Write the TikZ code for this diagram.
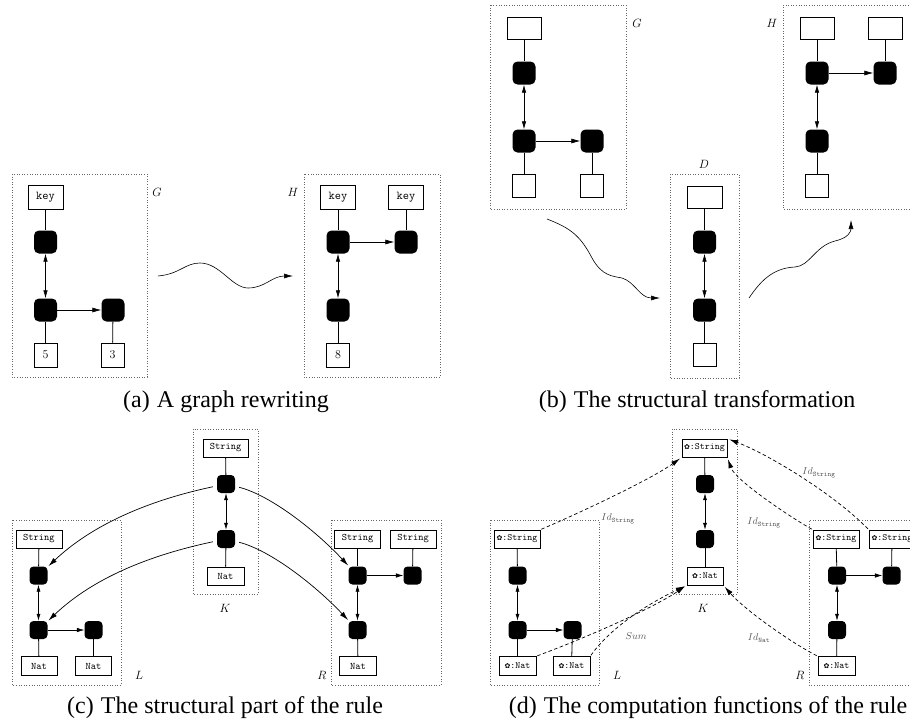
\documentclass[tikz,border=0pt]{standalone}
\usepackage{fontspec}
\usetikzlibrary{arrows.meta}
\newfontfamily\capfont{Liberation Serif}
\newfontfamily\dingfont{DejaVu Sans}
\newcommand{\fl}{{\dingfont\fontsize{7}{7}\selectfont ✿}}
\begin{document}
\begin{tikzpicture}[x=1pt,y=-1pt,
  frame/.style={draw=black!60, dotted, line width=0.6pt},
  blkA/.style={rectangle, fill=black, rounded corners=5pt, minimum size=23pt, inner sep=0pt},
  blkB/.style={blkA, minimum size=18pt, rounded corners=4pt},
  valA/.style={draw, line width=0.7pt, fill=white, inner sep=0pt, minimum height=24pt, font={\fontsize{12}{12}\selectfont\ttfamily}},
  valB/.style={draw, line width=0.7pt, fill=white, inner sep=0pt, minimum height=18pt, font={\fontsize{10}{10}\selectfont\ttfamily}},
  valD/.style={valB, font={\fontsize{9.5}{9.5}\selectfont\ttfamily}},
  glab/.style={font={\fontsize{12}{12}\selectfont}},
  flab/.style={font={\fontsize{10}{10}\selectfont}, text=black!65},
  captxt/.style={anchor=base, font={\fontsize{24}{24}\selectfont\capfont}},
  ln/.style={line width=0.8pt},
  arr/.style={line width=0.6pt, -{Latex[length=9pt,width=5pt]}},
  darr/.style={line width=0.6pt, {Latex[length=8pt,width=4.5pt]}-{Latex[length=8pt,width=4.5pt]}},
  arrc/.style={line width=0.6pt, -{Latex[length=7.5pt,width=4.5pt]}},
  darrc/.style={line width=0.6pt, {Latex[length=7pt,width=4pt]}-{Latex[length=7pt,width=4pt]}},
  carr/.style={line width=0.7pt, -{Latex[length=9pt,width=5pt]}, shorten <=4pt, shorten >=1pt},
  dasharr/.style={line width=0.7pt, dash pattern=on 3.5pt off 2.5pt, -{Latex[length=9pt,width=5pt]}, shorten <=1pt, shorten >=2pt}
]
\useasboundingbox (0,0) rectangle (910,723);

% ===================== (a) =====================
\draw[frame] (12,174) rectangle (147,377);
\node[glab] (gaG) at (157,192) {$G$};
\node[valA, minimum width=35pt] (ga_k) at (45.5,197) {key};
\node[blkA] (ga_b1) at (45.5,242) {};
\node[blkA] (ga_b2) at (45.5,310) {};
\node[blkA] (ga_b3) at (113,310) {};
\node[valA, minimum width=23pt, font={\fontsize{12}{12}\selectfont}] (ga_5) at (45.5,355) {5};
\node[valA, minimum width=23pt, font={\fontsize{12}{12}\selectfont}] (ga_3) at (112.5,355) {3};
\draw[ln] (ga_k) -- (ga_b1);
\draw[darr] (ga_b1) -- (ga_b2);
\draw[arr] (ga_b2) -- (ga_b3);
\draw[ln] (ga_b2) -- (ga_5);
\draw[ln] (ga_b3) -- (ga_3);

\draw[frame] (304,174) rectangle (440,377);
\node[glab] (haH) at (293,192) {$H$};
\node[valA, minimum width=35pt] (ha_k1) at (338,197) {key};
\node[valA, minimum width=35pt] (ha_k2) at (406,197) {key};
\node[blkA] (ha_b1) at (338,242) {};
\node[blkA] (ha_b2) at (406,242) {};
\node[blkA] (ha_b3) at (338,310) {};
\node[valA, minimum width=23pt, font={\fontsize{12}{12}\selectfont}] (ha_8) at (338,355) {8};
\draw[ln] (ha_k1) -- (ha_b1);
\draw[ln] (ha_k2) -- (ha_b2);
\draw[arr] (ha_b1) -- (ha_b2);
\draw[darr] (ha_b1) -- (ha_b3);
\draw[ln] (ha_b3) -- (ha_8);

\coordinate (sqa0) at (158,276);
\coordinate (sqa1) at (293,276);
\draw[arr] (sqa0) .. controls (180,274) and (185,263) .. (200,263)
  .. controls (220,263) and (232,288) .. (248,288)
  .. controls (265,288) and (272,276) .. (sqa1);

\node[captxt] (capa) at (226,407) {(a)\hspace{0.3em}A graph rewriting};

% ===================== (b) =====================
\draw[frame] (490,5) rectangle (626,209);
\node[glab] (gbG) at (637,23) {$G$};
\node[valA, minimum width=34pt, minimum height=22pt] (gb_t1) at (524,28) {};
\node[blkA] (gb_b1) at (524,73) {};
\node[blkA] (gb_b2) at (524,141) {};
\node[blkA] (gb_b3) at (592,141) {};
\node[valA, minimum width=23pt, minimum height=23pt] (gb_v1) at (524,186) {};
\node[valA, minimum width=23pt, minimum height=23pt] (gb_v2) at (592,186) {};
\draw[ln] (gb_t1) -- (gb_b1);
\draw[darr] (gb_b1) -- (gb_b2);
\draw[arr] (gb_b2) -- (gb_b3);
\draw[ln] (gb_b2) -- (gb_v1);
\draw[ln] (gb_b3) -- (gb_v2);

\draw[frame] (670,174) rectangle (739,378);
\node[glab] (dbD) at (704,164) {$D$};
\node[valA, minimum width=35pt, minimum height=22pt] (db_t) at (704.5,197) {};
\node[blkA] (db_b1) at (704.5,242) {};
\node[blkA] (db_b2) at (704.5,310) {};
\node[valA, minimum width=23pt, minimum height=23pt] (db_v) at (704.5,355) {};
\draw[ln] (db_t) -- (db_b1);
\draw[darr] (db_b1) -- (db_b2);
\draw[ln] (db_b2) -- (db_v);

\draw[frame] (783,5) -- (912,5) (912,209) -- (783,209) -- (783,5);
\node[glab] (hbH) at (772,23) {$H$};
\node[valA, minimum width=34pt, minimum height=22pt] (hb_t1) at (817,28) {};
\node[valA, minimum width=34pt, minimum height=22pt] (hb_t2) at (885,28) {};
\node[blkA] (hb_b1) at (817,73) {};
\node[blkA] (hb_b2) at (885,73) {};
\node[blkA] (hb_b3) at (817,141) {};
\node[valA, minimum width=23pt, minimum height=23pt] (hb_v) at (817,186) {};
\draw[ln] (hb_t1) -- (hb_b1);
\draw[ln] (hb_t2) -- (hb_b2);
\draw[arr] (hb_b1) -- (hb_b2);
\draw[darr] (hb_b1) -- (hb_b3);
\draw[ln] (hb_b3) -- (hb_v);

\coordinate (sqb0) at (547,219);
\coordinate (sqb1) at (660,298);
\draw[arr] (sqb0) .. controls (570,228) and (580,235) .. (592,258)
  .. controls (602,276) and (612,276) .. (622,278)
  .. controls (635,282) and (640,298) .. (sqb1);
\coordinate (sqc0) at (749,298);
\coordinate (sqc1) at (851,220);
\draw[arr] (sqc0) .. controls (760,282) and (772,268) .. (795,267)
  .. controls (810,266) and (815,246) .. (835,241)
  .. controls (848,238) and (851,232) .. (sqc1);

\node[captxt] (capb) at (697,407) {(b)\hspace{0.3em}The structural transformation};

% ===================== (c) =====================
\draw[frame] (193,429) rectangle (258,594);
\node[glab] (kcK) at (225,608) {$K$};
\node[valB, minimum width=45pt] (kc_s) at (225.5,448) {String};
\node[blkB] (kc_b1) at (226,484) {};
\node[blkB] (kc_b2) at (226,539) {};
\node[valB, minimum width=37pt] (kc_n) at (225.5,576) {Nat};
\draw[ln] (kc_s) -- (kc_b1);
\draw[darrc] (kc_b1) -- (kc_b2);
\draw[ln] (kc_b2) -- (kc_n);

\draw[frame] (12,520) rectangle (121,685);
\node[glab] (lcL) at (139,675) {$L$};
\node[valB, minimum width=46pt] (lc_s) at (39,539) {String};
\node[blkB] (lc_b1) at (38.5,575.5) {};
\node[blkB] (lc_b2) at (38.5,630) {};
\node[blkB] (lc_b3) at (93.5,630) {};
\node[valB, minimum width=36pt, minimum height=19pt] (lc_n1) at (39,666) {Nat};
\node[valB, minimum width=36pt, minimum height=19pt] (lc_n2) at (93.5,666) {Nat};
\draw[ln] (lc_s) -- (lc_b1);
\draw[darrc] (lc_b1) -- (lc_b2);
\draw[arrc] (lc_b2) -- (lc_b3);
\draw[ln] (lc_b2) -- (lc_n1);
\draw[ln] (lc_b3) -- (lc_n2);

\draw[frame] (331,520) rectangle (441,685);
\node[glab] (rcR) at (322,675) {$R$};
\node[valB, minimum width=46pt] (rc_s1) at (357.5,539) {String};
\node[valB, minimum width=46pt] (rc_s2) at (413,539) {String};
\node[blkB] (rc_b1) at (357.5,575.5) {};
\node[blkB] (rc_b2) at (412.5,575.5) {};
\node[blkB] (rc_b3) at (357.5,630) {};
\node[valB, minimum width=37pt, minimum height=19pt] (rc_n) at (358,666) {Nat};
\draw[ln] (rc_s1) -- (rc_b1);
\draw[ln] (rc_s2) -- (rc_b2);
\draw[arrc] (rc_b1) -- (rc_b2);
\draw[darrc] (rc_b1) -- (rc_b3);
\draw[ln] (rc_b3) -- (rc_n);

\draw[carr] (kc_b1) .. controls (150,500) and (93,524) .. (lc_b1);
\draw[carr] (kc_b2) .. controls (150,555) and (93,578) .. (lc_b2);
\draw[carr] (kc_b1) .. controls (270,495) and (315,530) .. (rc_b1);
\draw[carr] (kc_b2) .. controls (270,550) and (315,585) .. (rc_b3);

\node[captxt] (capc) at (225,713) {(c)\hspace{0.3em}The structural part of the rule};

% ===================== (d) =====================
\draw[frame] (672,429) rectangle (737,594);
\node[glab] (kdK) at (703,608) {$K$};
\node[valD, minimum width=45pt] (kd_s) at (704.5,448) {\fl:String};
\node[blkB] (kd_b1) at (705,484) {};
\node[blkB] (kd_b2) at (705,539) {};
\node[valD, minimum width=36pt] (kd_n) at (705,576) {\fl:Nat};
\draw[ln] (kd_s) -- (kd_b1);
\draw[darrc] (kd_b1) -- (kd_b2);
\draw[ln] (kd_b2) -- (kd_n);

\draw[frame] (490,520) rectangle (599,685);
\node[glab] (ldL) at (617,675) {$L$};
\node[valD, minimum width=46pt] (ld_s) at (517,539) {\fl:String};
\node[blkB] (ld_b1) at (517.5,575.5) {};
\node[blkB] (ld_b2) at (517.5,630) {};
\node[blkB] (ld_b3) at (572.5,630) {};
\node[valD, minimum width=37pt, minimum height=19pt] (ld_n1) at (517.5,666) {\fl:Nat};
\node[valD, minimum width=37pt, minimum height=19pt] (ld_n2) at (571.5,666) {\fl:Nat};
\draw[ln] (ld_s) -- (ld_b1);
\draw[darrc] (ld_b1) -- (ld_b2);
\draw[arrc] (ld_b2) -- (ld_b3);
\draw[ln] (ld_b2) -- (ld_n1);
\draw[ln] (ld_b3) -- (ld_n2);

\draw[frame] (912,520) -- (809,520) -- (809,685) -- (912,685);
\node[glab] (rdR) at (800,675) {$R$};
\node[valD, minimum width=46pt] (rd_s1) at (836,539) {\fl:String};
\node[valD, minimum width=46pt] (rd_s2) at (892,539) {\fl:String};
\node[blkB] (rd_b1) at (837,575.5) {};
\node[blkB] (rd_b2) at (891.5,575.5) {};
\node[blkB] (rd_b3) at (837,630) {};
\node[valD, minimum width=37pt, minimum height=19pt] (rd_n) at (836.5,666) {\fl:Nat};
\draw[ln] (rd_s1) -- (rd_b1);
\draw[ln] (rd_s2) -- (rd_b2);
\draw[arrc] (rd_b1) -- (rd_b2);
\draw[darrc] (rd_b1) -- (rd_b3);
\draw[ln] (rd_b3) -- (rd_n);

\draw[dasharr] (ld_s.north east) .. controls (575,515) and (650,480) .. (kd_s.south west);
\draw[dasharr] (rd_s1.north west) .. controls (790,517) and (735,480) .. (kd_s.south east);
\draw[dasharr] (rd_s2.north west) .. controls (835,495) and (770,455) .. (kd_s.north east);
\draw[dasharr] (ld_n1.north east) .. controls (580,640) and (650,610) .. (kd_n.south west);
\draw[dasharr] (ld_n2.north east) .. controls (605,635) and (635,610) .. (kd_n.south west);
\draw[dasharr] (rd_n.north west) .. controls (790,642) and (745,610) .. (kd_n.south east);

\node[flab] (f1) at (618,519) {$Id_{\mathtt{String}}$};
\node[flab] (f2) at (764,523) {$Id_{\mathtt{String}}$};
\node[flab] (f3) at (819,473) {$Id_{\mathtt{String}}$};
\node[flab] (f4) at (636,636) {$Sum$};
\node[flab] (f5) at (759,638) {$Id_{\mathtt{Nat}}$};

\node[captxt] (capd) at (708,713) {(d)\hspace{0.3em}The computation functions of the rule};
\end{tikzpicture}
\end{document}
